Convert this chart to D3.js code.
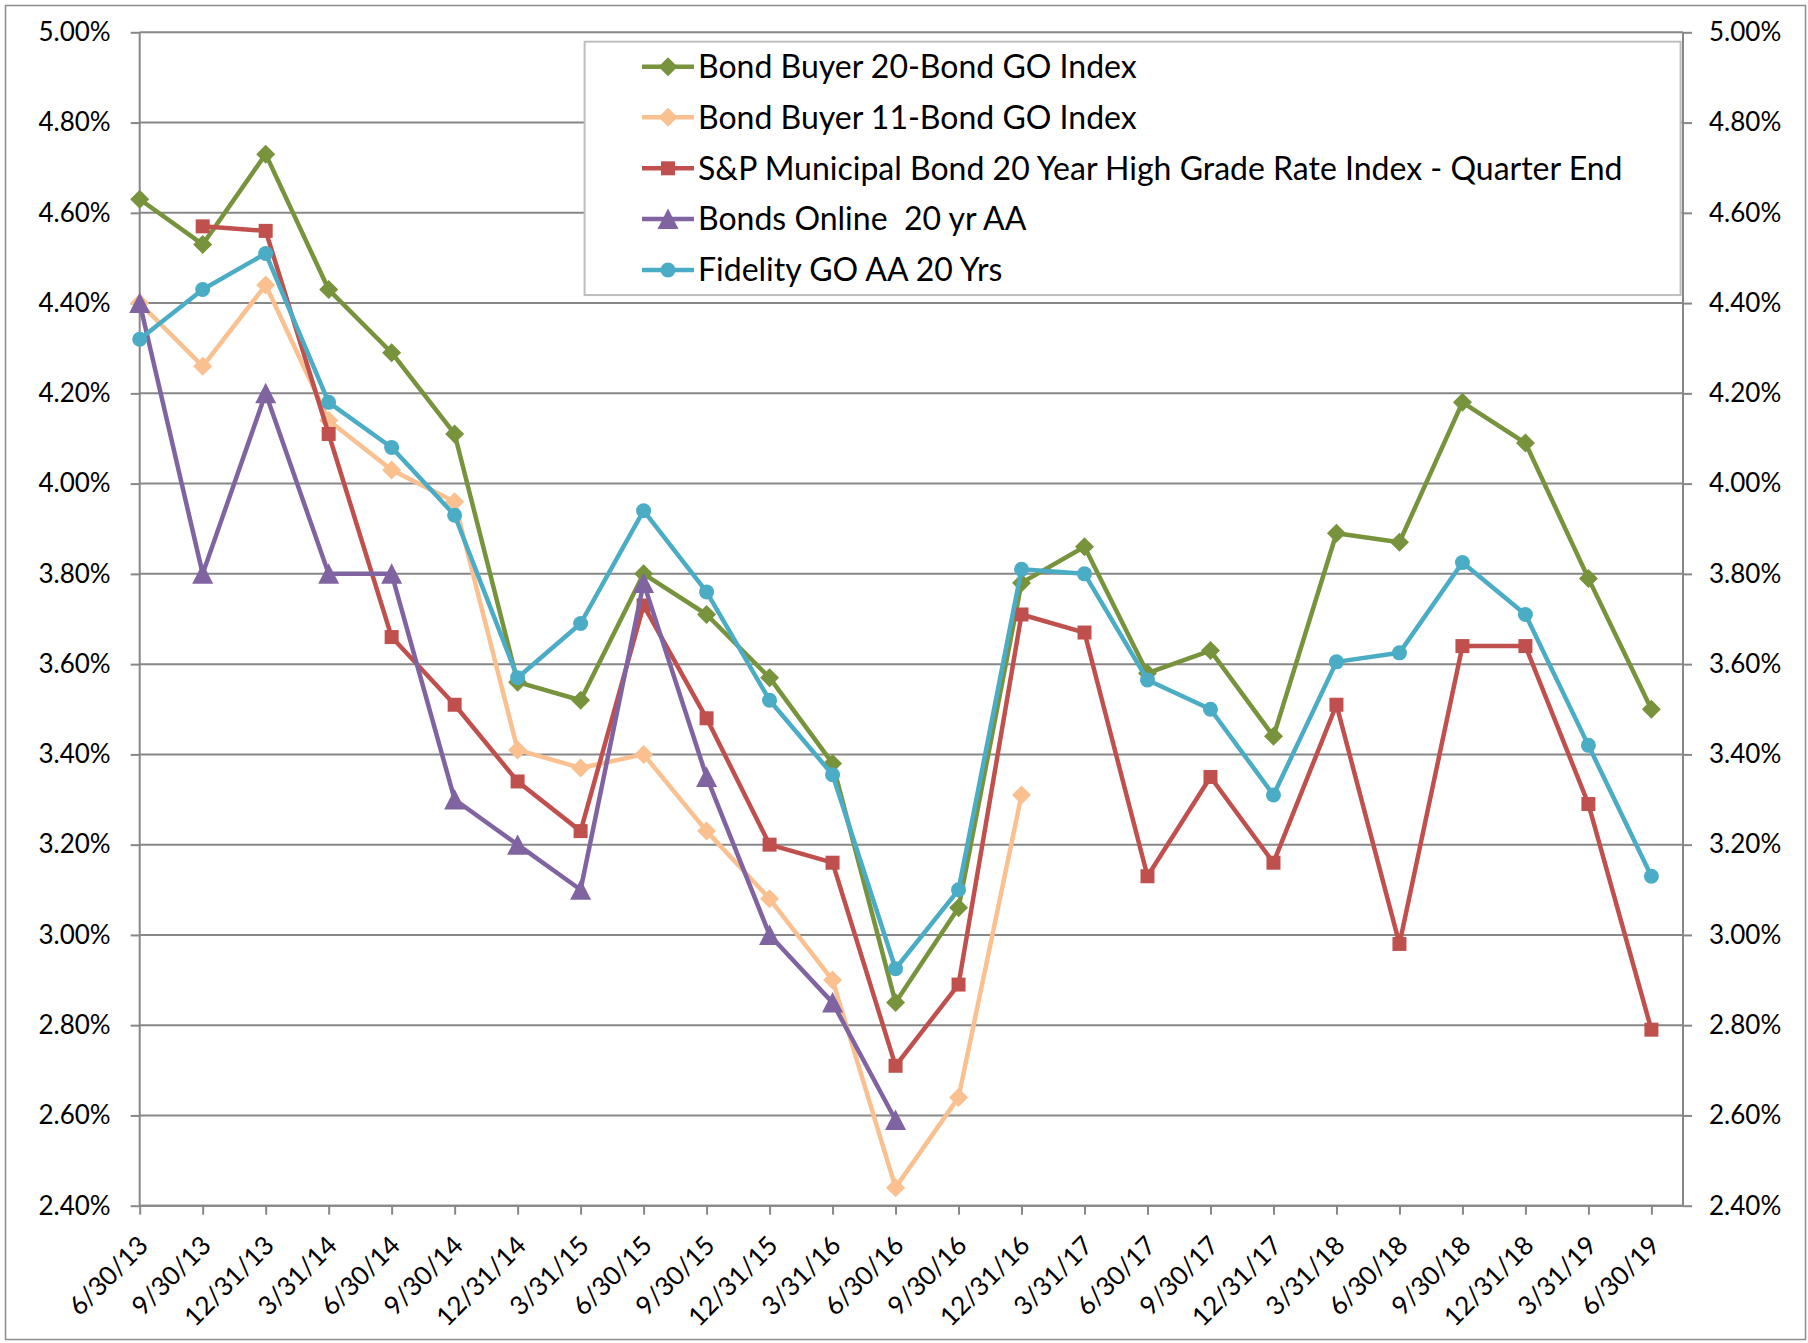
<!DOCTYPE html>
<html>
<head>
<meta charset="utf-8">
<script src="https://cdn.jsdelivr.net/npm/d3@7"></script>
<style>
  html, body { margin: 0; padding: 0; background: #fff; }
  svg { display: block; font-family: Lato, "Open Sans", sans-serif; }
</style>
</head>
<body>
<svg id="chart" width="1808" height="1343"></svg>
<script>
const categories = ["6/30/13","9/30/13","12/31/13","3/31/14","6/30/14","9/30/14","12/31/14","3/31/15","6/30/15","9/30/15","12/31/15","3/31/16","6/30/16","9/30/16","12/31/16","3/31/17","6/30/17","9/30/17","12/31/17","3/31/18","6/30/18","9/30/18","12/31/18","3/31/19","6/30/19"];

const bondBuyer20 = [4.63,4.53,4.73,4.43,4.29,4.11,3.56,3.52,3.80,3.71,3.57,3.38,2.85,3.06,3.78,3.86,3.58,3.63,3.44,3.89,3.87,4.18,4.09,3.79,3.50];
const bondBuyer11 = [4.40,4.26,4.44,4.14,4.03,3.96,3.41,3.37,3.40,3.23,3.08,2.90,2.44,2.64,3.31,null,null,null,null,null,null,null,null,null,null];
const spMuni20 = [null,4.57,4.56,4.11,3.66,3.51,3.34,3.23,3.73,3.48,3.20,3.16,2.71,2.89,3.71,3.67,3.13,3.35,3.16,3.51,2.98,3.64,3.64,3.29,2.79];
const bondsOnline20 = [4.40,3.80,4.20,3.80,3.80,3.30,3.20,3.10,3.78,3.35,3.00,2.85,2.59,null,null,null,null,null,null,null,null,null,null,null,null];
const fidelityGO20 = [4.32,4.43,4.51,4.18,4.08,3.93,3.57,3.69,3.94,3.76,3.52,3.355,2.925,3.10,3.81,3.80,3.565,3.50,3.31,3.605,3.625,3.825,3.71,3.42,3.13];

const seriesNames = ["Bond Buyer 20-Bond GO Index","Bond Buyer 11-Bond GO Index","S&P Municipal Bond 20 Year High Grade Rate Index - Quarter End","Bonds Online  20 yr AA","Fidelity GO AA 20 Yrs"];
const seriesValues = [bondBuyer20, bondBuyer11, spMuni20, bondsOnline20, fidelityGO20];
const seriesColors = ["#77933C","#FAC090","#C0504D","#8064A2","#4BACC6"];
const seriesMarkers = ["diamond","diamond","square","triangle","circle"];
const yTicks = [2.4,2.6,2.8,3.0,3.2,3.4,3.6,3.8,4.0,4.2,4.4,4.6,4.8,5.0];

const svg = d3.select("#chart");
const plotLeft = 139.7, plotRight = 1683, plotTop = 32.3, plotBottom = 1205.7;
const x = d3.scalePoint().domain(categories).range([139.7, 1651.4]);
const y = d3.scaleLinear().domain([2.4, 5.0]).range([plotBottom, plotTop]);

// outer border
svg.append("rect").attr("x", 5.5).attr("y", 5.5).attr("width", 1800).attr("height", 1334)
  .attr("fill", "#fff").attr("stroke", "#8c8c8c").attr("stroke-width", 1.5);

const gridColor = "#878787";
svg.append("g").selectAll("line").data(yTicks).join("line")
  .attr("x1", plotLeft).attr("x2", plotRight)
  .attr("y1", d => y(d)).attr("y2", d => y(d))
  .attr("stroke", gridColor).attr("stroke-width", 2);

const fmt = d => d.toFixed(2) + "%";
const gl = svg.append("g").attr("transform", `translate(${plotLeft},0)`)
  .call(d3.axisLeft(y).tickValues(yTicks).tickSize(9).tickPadding(20).tickFormat(fmt));
const gr = svg.append("g").attr("transform", `translate(${plotRight},0)`)
  .call(d3.axisRight(y).tickValues(yTicks).tickSize(9).tickPadding(17).tickFormat(fmt));
const gb = svg.append("g").attr("transform", `translate(0,${plotBottom})`)
  .call(d3.axisBottom(x).tickSize(9).tickSizeOuter(0));
svg.append("line").attr("x1", plotLeft).attr("x2", plotRight).attr("y1", plotBottom).attr("y2", plotBottom)
  .attr("stroke", gridColor).attr("stroke-width", 2);

[gl, gr, gb].forEach(g => {
  g.selectAll(".domain").attr("stroke", gridColor).attr("stroke-width", 2);
  g.selectAll(".tick line").attr("stroke", gridColor).attr("stroke-width", 2);
  g.selectAll("text").attr("font-size", 26).attr("font-family", "Lato").attr("fill", "#000");
});
gl.select(".domain").attr("d", `M0,${plotTop}V${plotBottom}`);
gr.select(".domain").attr("d", `M0,${plotTop}V${plotBottom}`);
gb.select(".domain").remove();
gb.selectAll(".tick text")
  .attr("x", 0).attr("y", 0).attr("dy", "0.35em")
  .attr("text-anchor", "end")
  .attr("transform", "translate(3,35) rotate(-45)");

function markerPath(type) {
  if (type === "diamond") return "M0,-9.5L9.5,0L0,9.5L-9.5,0Z";
  if (type === "square") return "M-7,-7H7V7H-7Z";
  if (type === "triangle") return "M0,-10.5L10.5,10L-10.5,10Z";
  return d3.symbol(d3.symbolCircle, Math.PI * 7.5 * 7.5)();
}

seriesValues.forEach((vals, si) => {
  const data = vals.map((v, i) => ({ c: categories[i], v }));
  const line = d3.line().defined(d => d.v != null).x(d => x(d.c)).y(d => y(d.v));
  const g = svg.append("g");
  g.append("path").datum(data).attr("d", line)
    .attr("fill", "none").attr("stroke", seriesColors[si]).attr("stroke-width", 4.5)
    .attr("stroke-linejoin", "round");
  g.selectAll("path.m").data(data.filter(d => d.v != null)).join("path").attr("class", "m")
    .attr("d", markerPath(seriesMarkers[si]))
    .attr("transform", d => `translate(${x(d.c)},${y(d.v)})`)
    .attr("fill", seriesColors[si]);
});

// legend
const lg = svg.append("g");
lg.append("rect").attr("x", 584.6).attr("y", 41.7).attr("width", 1096).attr("height", 253.3)
  .attr("fill", "#fff").attr("stroke", "#bfbfbf").attr("stroke-width", 2);
const rowY = [66.7, 117.3, 168.3, 219, 270];
seriesNames.forEach((name, i) => {
  const r = lg.append("g").attr("transform", `translate(0,${rowY[i]})`);
  r.append("line").attr("x1", 642).attr("x2", 694).attr("y1", 0).attr("y2", 0)
    .attr("stroke", seriesColors[i]).attr("stroke-width", 4.5);
  r.append("path").attr("d", markerPath(seriesMarkers[i])).attr("transform", "translate(668,0)")
    .attr("fill", seriesColors[i]);
  r.append("text").attr("x", 698).attr("y", 0).attr("dy", "0.35em")
    .attr("font-size", 32).attr("font-family", "Lato").attr("fill", "#000")
    .style("white-space", "pre")
    .text(name);
});
</script>
</body>
</html>
